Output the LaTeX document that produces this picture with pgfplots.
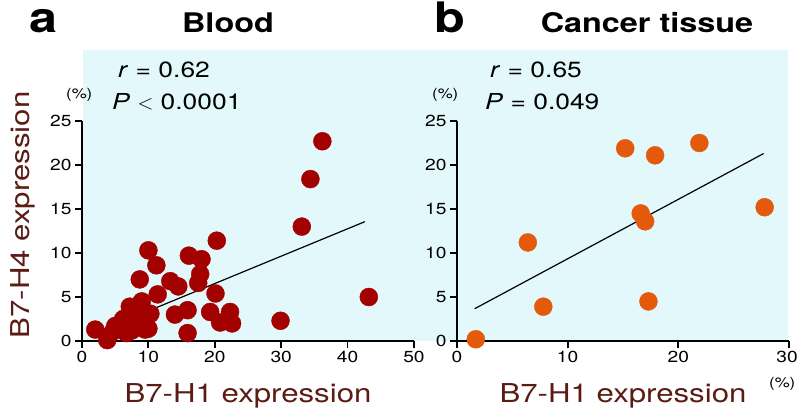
\documentclass[border=0pt]{standalone}
\usepackage{fontspec}
\setmainfont{TeX Gyre Heros}[FakeStretch=1.2]
\usepackage{pgfplots}
\pgfplotsset{compat=1.18}

\definecolor{bgcyan}{HTML}{E3F8FB}
\definecolor{blooddot}{HTML}{A30000}
\definecolor{tissuedot}{HTML}{E35A0C}
\definecolor{labbrown}{HTML}{5A1C14}

\pgfplotsset{
  panel/.style={
    scale only axis, width=332pt, height=220pt, anchor=south west,
    ymin=0, ymax=25, ytick={0,5,10,15,20,25},
    axis lines=left, axis line style={-, line width=1.8pt},
    tick align=outside, major tick length=7pt,
    tick style={line width=1.8pt, black},
    ticklabel style={font=\fontsize{16}{18}\selectfont},
    /pgf/number format/assume math mode=true,
    clip=false,
  },
  dots/.style={only marks, mark=*, mark size=9pt,
    mark options={fill=#1, draw=#1}},
}

\begin{document}
\begin{tikzpicture}[x=1pt, y=1pt]
\useasboundingbox (0,0) rectangle (798,413);
\fill[bgcyan] (83,72) rectangle (788,363);

% panel a: blood
\begin{axis}[panel, at={(82pt,72pt)}, xmin=0, xmax=50, xtick={0,10,...,50}]
\addplot[dots=blooddot] coordinates {
  (2.0,1.3) (3.8,0.1) (4.7,1.1) (5.0,1.7) (5.7,1.9) (6.2,2.5) (6.7,0.9)
  (7.2,3.9) (7.5,1.2) (7.7,2.8) (8.0,2.3) (8.3,1.9) (8.7,7.0) (9.0,4.5)
  (9.3,2.6) (9.5,1.3) (10.0,10.3) (10.0,1.4) (10.3,3.1) (11.2,8.6)
  (11.4,5.3) (13.3,6.8) (14.0,3.0) (14.5,6.2) (15.9,3.5) (15.9,0.9)
  (16.1,9.7) (17.5,6.6) (17.8,7.6) (18.0,9.3) (19.3,3.3) (20.1,5.4)
  (20.3,11.4) (20.8,2.1) (22.3,3.3) (22.6,2.0) (29.9,2.3) (33.1,13.0)
  (34.4,18.4) (36.2,22.7) (43.2,5.0)
};
\addplot[black, line width=1.2pt] coordinates {(3.0,1.24) (42.6,13.56)};
\end{axis}

% panel b: cancer tissue
\begin{axis}[panel, at={(457pt,72pt)}, xmin=0, xmax=30, xtick={0,10,20,30},
  xticklabels={0,10,20,{30\kern4pt}}]
\addplot[dots=tissuedot] coordinates {
  (1.7,0.2) (6.4,11.2) (7.8,3.9) (15.2,21.9) (17.9,21.1) (21.9,22.5)
  (16.6,14.5) (17.0,13.6) (17.3,4.5) (27.8,15.2)
};
\addplot[black, line width=1.2pt] coordinates {(1.6,3.67) (27.7,21.3)};
\end{axis}

% titles
\node[anchor=base, font=\fontsize{42}{48}\selectfont\bfseries] at (44,380) {a};
\node[anchor=base, font=\fontsize{27}{32}\selectfont\bfseries] at (228,380) {Blood};
\node[anchor=base, font=\fontsize{42}{48}\selectfont\bfseries] at (450,380) {b};
\node[anchor=base, font=\fontsize{27}{32}\selectfont\bfseries] at (647,380) {Cancer tissue};

% statistics
\node[anchor=base west, inner sep=0pt, font=\fontsize{22}{26}\selectfont] at (118,335) {\textit{r} = 0.62};
\node[anchor=base west, inner sep=0pt, font=\fontsize{22}{26}\selectfont] at (112,303) {\textit{P} $<$ 0.0001};
\node[anchor=base west, inner sep=0pt, font=\fontsize{22}{26}\selectfont] at (490,335) {\textit{r} = 0.65};
\node[anchor=base west, inner sep=0pt, font=\fontsize{22}{26}\selectfont] at (485,303) {\textit{P} = 0.049};

% units
\node[anchor=base west, inner sep=0pt, font=\fontsize{14}{16}\selectfont] at (66,314) {(\%)};
\node[anchor=base west, inner sep=0pt, font=\fontsize{14}{16}\selectfont] at (432,314) {(\%)};
\node[anchor=base west, inner sep=0pt, font=\fontsize{14}{16}\selectfont] at (769,26) {(\%)};

% axis labels
\node[anchor=base, inner sep=0pt, text=labbrown, font=\fontsize{26}{30}\selectfont] at (248,11) {B7-H1 expression};
\node[anchor=base, inner sep=0pt, text=labbrown, font=\fontsize{26}{30}\selectfont] at (623,11) {B7-H1 expression};
\node[anchor=base, inner sep=0pt, rotate=90, text=labbrown, font=\fontsize{26}{30}\selectfont] at (29,198) {B7-H4 expression};
\end{tikzpicture}
\end{document}
